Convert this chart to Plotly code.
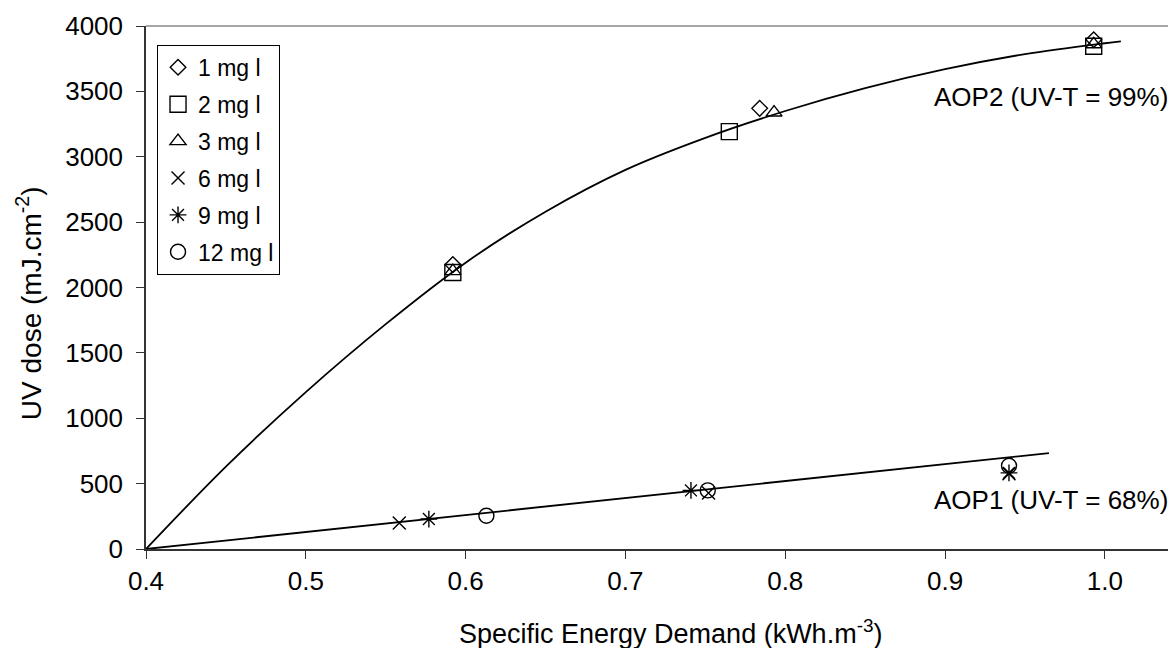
import plotly.graph_objects as go

# ---- data ----
series_names = ["1 mg l", "2 mg l", "3 mg l", "6 mg l", "9 mg l", "12 mg l"]
series_symbols = ["diamond-open", "square-open", "triangle-up-open", "x-thin", "asterisk", "circle-open"]
series_sizes = [12, 16, 14, 13, 14, 15]

x_1mg = [0.592, 0.784, 0.993]
y_1mg = [2175, 3370, 3895]
x_2mg = [0.592, 0.765, 0.993]
y_2mg = [2115, 3192, 3845]
x_3mg = [0.592, 0.793, 0.993]
y_3mg = [2125, 3338, 3860]
x_6mg = [0.5585, 0.752, 0.940]
y_6mg = [199, 428, 575]
x_9mg = [0.577, 0.741, 0.940]
y_9mg = [229, 448, 582]
x_12mg = [0.613, 0.7515, 0.940]
y_12mg = [254, 448, 637]

series_x = [x_1mg, x_2mg, x_3mg, x_6mg, x_9mg, x_12mg]
series_y = [y_1mg, y_2mg, y_3mg, y_6mg, y_9mg, y_12mg]

# trend curves
aop2_x = [0.40, 0.45, 0.50, 0.55, 0.60, 0.65, 0.70, 0.75, 0.80, 0.85, 0.90, 0.95, 1.00, 1.01]
aop2_y = [0, 630, 1200, 1720, 2190, 2580, 2900, 3145, 3350, 3525, 3670, 3785, 3868, 3882]
aop1_x = [0.40, 0.965]
aop1_y = [0, 734]

x_ticks = [0.4, 0.5, 0.6, 0.7, 0.8, 0.9, 1.0]
y_ticks = [0, 500, 1000, 1500, 2000, 2500, 3000, 3500, 4000]

label_aop2 = "AOP2 (UV-T = 99%)"
label_aop1 = "AOP1 (UV-T = 68%)"
x_title = "Specific Energy Demand (kWh.m<sup>-3</sup>)"
y_title = "UV dose (mJ.cm<sup>-2</sup>)"

FONT = "Liberation Sans, Arial, sans-serif"

fig = go.Figure()

fig.add_trace(go.Scatter(x=aop2_x, y=aop2_y, mode="lines", line=dict(color="black", width=1.8, shape="spline"),
                         showlegend=False, hoverinfo="skip"))
fig.add_trace(go.Scatter(x=aop1_x, y=aop1_y, mode="lines", line=dict(color="black", width=1.8),
                         showlegend=False, hoverinfo="skip"))

for i, name in enumerate(series_names):
    fig.add_trace(go.Scatter(
        x=series_x[i], y=series_y[i], mode="markers", name=name,
        legendgroup=name,
        marker=dict(symbol=series_symbols[i], size=series_sizes[i], color="black",
                    line=dict(color="black", width=1.4)),
    ))

fig.add_annotation(x=1.041, y=3460, xref="x", yref="y", text=label_aop2, showarrow=False,
                   xanchor="right", yanchor="middle", font=dict(family=FONT, size=26, color="black"))
fig.add_annotation(x=1.041, y=377, xref="x", yref="y", text=label_aop1, showarrow=False,
                   xanchor="right", yanchor="middle", font=dict(family=FONT, size=26, color="black"))

# axis titles
fig.add_annotation(x=0.5097, y=-0.158, xref="paper", yref="paper", text=x_title, showarrow=False,
                   xanchor="center", yanchor="middle", font=dict(family=FONT, size=27, color="black"))
fig.add_annotation(x=-0.1136, y=0.470, xref="paper", yref="paper", text=y_title, showarrow=False,
                   textangle=-90, xanchor="center", yanchor="middle",
                   font=dict(family=FONT, size=28, color="black"))

# top border line
fig.add_shape(type="line", xref="paper", yref="paper", x0=0, x1=1, y0=1, y1=1,
              line=dict(color="#888888", width=1.5))

# the page body adds an 8px offset, so the figure is sized/margined to compensate
fig.update_layout(
    width=1168, height=640,
    margin=dict(l=138, r=0, t=18, b=99),
    paper_bgcolor="white", plot_bgcolor="white",
    font=dict(family=FONT, size=26, color="black"),
    legend=dict(x=0.0107, y=0.964, xanchor="left", yanchor="top",
                bgcolor="white", bordercolor="black", borderwidth=1,
                font=dict(family=FONT, size=23, color="black"),
                tracegroupgap=4, itemwidth=30),
    xaxis=dict(range=[0.4, 1.0445], tickvals=x_ticks, tickformat=".1f",
               showline=True, linecolor="#333333", linewidth=1.5,
               ticks="outside", ticklen=8, tickcolor="#333333", tickwidth=1.2,
               showgrid=False, zeroline=False, ticklabelstandoff=0),
    yaxis=dict(range=[0, 4000], tickvals=y_ticks,
               showline=True, linecolor="#333333", linewidth=1.5,
               ticks="outside", ticklen=8, tickcolor="#333333", tickwidth=1.2,
               showgrid=False, zeroline=False, ticklabelstandoff=8),
)

fig.write_html("out.html")
